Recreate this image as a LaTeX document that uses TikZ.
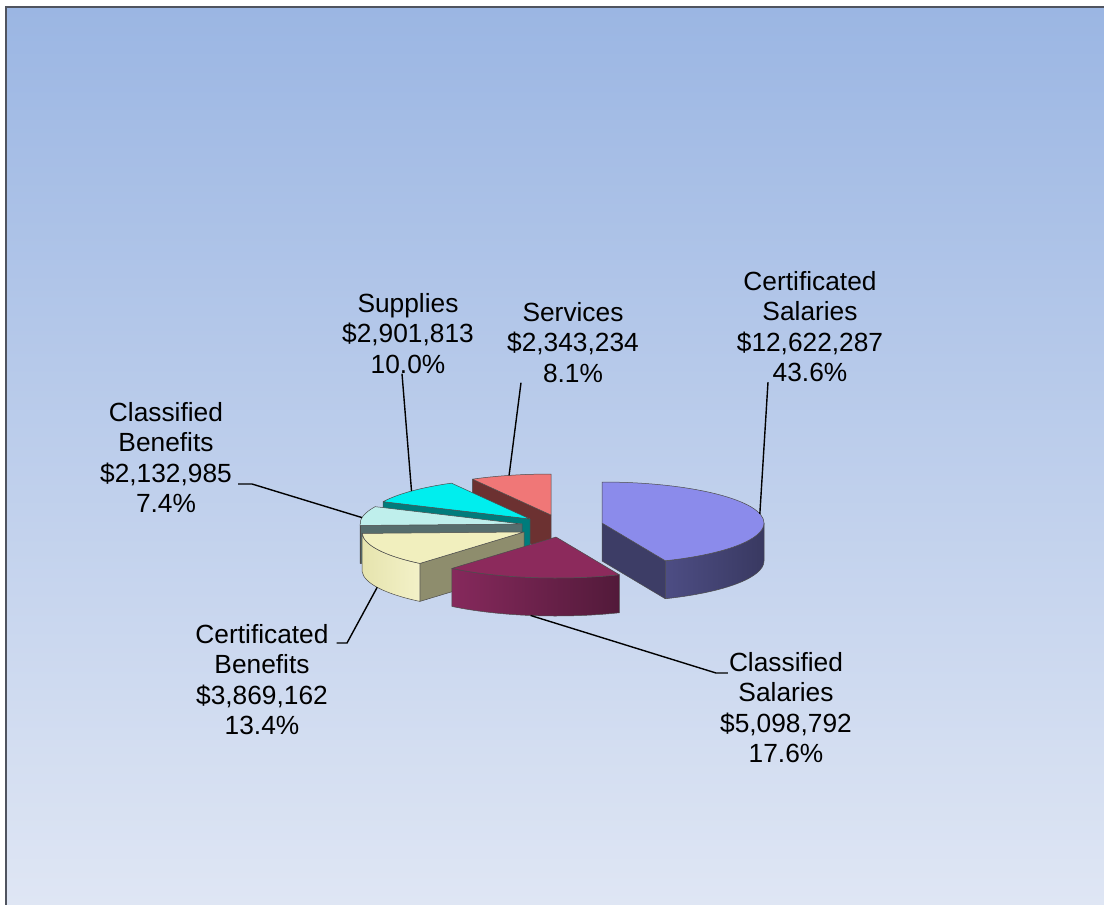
\documentclass[tikz,border=0pt]{standalone}
\usepackage{fontspec}
\setmainfont{Liberation Sans}
\usetikzlibrary{calc}

\definecolor{bgtop}{HTML}{9BB6E3}
\definecolor{bgbot}{HTML}{DFE6F4}
\definecolor{frame}{HTML}{50545F}
\definecolor{salTop}{HTML}{8B8BEB}
\definecolor{salSideA}{HTML}{4D4D84}
\definecolor{salSideB}{HTML}{393961}
\definecolor{salRad}{HTML}{3D3D66}
\definecolor{clsTop}{HTML}{8C2A5C}
\definecolor{clsSideA}{HTML}{86295C}
\definecolor{clsSideB}{HTML}{521A3A}
\definecolor{benTop}{HTML}{F1EFBE}
\definecolor{benSideA}{HTML}{E6E4AE}
\definecolor{benSideB}{HTML}{F3F1C8}
\definecolor{benRad}{HTML}{8E8D6D}
\definecolor{cbTop}{HTML}{BFEFEC}
\definecolor{cbSide}{HTML}{566D6D}
\definecolor{supTop}{HTML}{00EEEE}
\definecolor{supSide}{HTML}{007C7C}
\definecolor{svcTop}{HTML}{F07777}
\definecolor{svcSide}{HTML}{6C3131}

\begin{document}
\begin{tikzpicture}[x=1pt, y=-1pt,
    lbl/.style    = {align=center, inner sep=0pt, anchor=north, font=\fontsize{26.3}{30.5}\selectfont},
    leader/.style = {draw=black, line width=1.4pt},
    face/.style   = {draw=black!70, line width=0.5pt, line join=round},
    rad/.style    = {x radius=162, y radius=41}
  ]
  \useasboundingbox (0,0) rectangle (1104,905);
  \shade[top color=bgtop, bottom color=bgbot] (6,7) rectangle (1104,905);
  \draw[frame, line width=2pt] (6,905) -- (6,7) -- (1104,7);

  \coordinate (cSvc) at (551,515);
  \coordinate (cSup) at (530,519);
  \coordinate (cBen) at (522,524);
  \coordinate (cCert) at (524,532);
  \coordinate (cSal) at (602,523);
  \coordinate (cCls) at (556,537);

  % Services
  \path[face, fill=svcSide] (cSvc) -- ($(cSvc)+(241:162 and 41)$) -- ++(0,38) -- ($(cSvc)+(0,38)$) -- cycle;
  \path[face, fill=svcTop] (cSvc) -- ($(cSvc)+(241:162 and 41)$) arc[start angle=241, end angle=270, rad] -- cycle;
  % Supplies
  \path[face, fill=supSide] (cSup) -- ($(cSup)+(205:162 and 41)$) -- ++(0,38) -- ($(cSup)+(0,38)$) -- cycle;
  \path[face, fill=supTop] (cSup) -- ($(cSup)+(205:162 and 41)$) arc[start angle=205, end angle=241, rad] -- cycle;
  % Classified Benefits
  \path[face, fill=cbSide] (cBen) -- ($(cBen)+(178:162 and 41)$) -- ++(0,38) -- ($(cBen)+(0,38)$) -- cycle;
  \path[face, fill=cbSide] ($(cBen)+(178:162 and 41)$) arc[start angle=178, end angle=182, rad] -- ++(0,38) arc[start angle=182, end angle=178, rad] -- cycle;
  \path[face, fill=cbTop] (cBen) -- ($(cBen)+(178:162 and 41)$) arc[start angle=178, end angle=205, rad] -- cycle;
  % Certificated Benefits
  \path[face, fill=benRad] (cCert) -- ($(cCert)+(130:162 and 41)$) -- ++(0,38) -- ($(cCert)+(0,38)$) -- cycle;
  \shadedraw[face, left color=benSideA, right color=benSideB] ($(cCert)+(130:162 and 41)$) arc[start angle=130, end angle=178, rad] -- ++(0,38) arc[start angle=178, end angle=130, rad] -- cycle;
  \path[face, fill=benTop] (cCert) -- ($(cCert)+(130:162 and 41)$) arc[start angle=130, end angle=178, rad] -- cycle;
  % Certificated Salaries
  \path[face, fill=salRad] (cSal) -- ($(cSal)+(67:162 and 41)$) -- ++(0,38) -- ($(cSal)+(0,38)$) -- cycle;
  \shadedraw[face, left color=salSideA, right color=salSideB] ($(cSal)+(0:162 and 41)$) arc[start angle=0, end angle=67, rad] -- ++(0,38) arc[start angle=67, end angle=0, rad] -- cycle;
  \path[face, fill=salTop] (cSal) -- ($(cSal)+(-90:162 and 41)$) arc[start angle=-90, end angle=67, rad] -- cycle;
  % Classified Salaries
  \shadedraw[face, left color=clsSideA, right color=clsSideB] ($(cCls)+(67:162 and 41)$) arc[start angle=67, end angle=130, rad] -- ++(0,38) arc[start angle=130, end angle=67, rad] -- cycle;
  \path[face, fill=clsTop] (cCls) -- ($(cCls)+(67:162 and 41)$) arc[start angle=67, end angle=130, rad] -- cycle;

  \coordinate (pSal) at ($(cSal)+(-13:162 and 41)$);
  \coordinate (pSvc) at ($(cSvc)+(255:162 and 41)$);
  \coordinate (pSup) at ($(cSup)+(223:162 and 41)$);
  \coordinate (pBen) at ($(cBen)+(189:162 and 41)$);
  \coordinate (pCert) at ($(cCert)+(0,38)+(155:162 and 41)$);
  \coordinate (pCls) at ($(cCls)+(0,38)+(99:162 and 41)$);
  \coordinate (kBen) at (252,484);
  \coordinate (kCert) at (347,643);
  \coordinate (kCls) at (716,673);

  \node[lbl] (salLbl) at (810,271) {Certificated\\Salaries\\\$12,622,287\\43.6\%};
  \node[lbl] (svcLbl) at (573,302) {Services\\\$2,343,234\\8.1\%};
  \node[lbl] (supLbl) at (408,293) {Supplies\\\$2,901,813\\10.0\%};
  \node[lbl] (benLbl) at (166,402) {Classified\\Benefits\\\$2,132,985\\7.4\%};
  \node[lbl] (certLbl) at (262,624) {Certificated\\Benefits\\\$3,869,162\\13.4\%};
  \node[lbl] (clsLbl) at (786,652) {Classified\\Salaries\\\$5,098,792\\17.6\%};

  \draw[leader] ([xshift=-42]salLbl.south) -- (pSal);
  \draw[leader] ([xshift=-52]svcLbl.south) -- (pSvc);
  \draw[leader] ([xshift=-6]supLbl.south) -- (pSup);
  \draw[leader] (benLbl.east |- kBen) ++(6,0) -- (kBen) -- (pBen);
  \draw[leader] (certLbl.east |- kCert) ++(8,0) -- (kCert) -- (pCert);
  \draw[leader] (pCls) -- (kCls) -- ($(clsLbl.west |- kCls)+(8,0)$);
\end{tikzpicture}
\end{document}
